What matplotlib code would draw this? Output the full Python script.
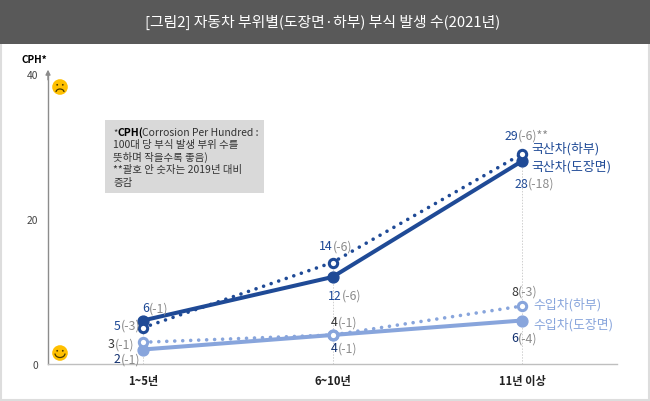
import matplotlib
matplotlib.use('Agg')
import matplotlib.pyplot as plt
from matplotlib.patches import Rectangle, Circle, Arc

plt.rcParams['font.family'] = ['Noto Sans CJK KR', 'DejaVu Sans']

W, H = 650, 402
title = '[그림2] 자동차 부위별(도장면·하부) 부식 발생 수(2021년)'
categories = ['1~5년', '6~10년', '11년 이상']
domestic_body = [6, 12, 28]
domestic_under = [5, 14, 29]
import_body = [2, 4, 6]
import_under = [3, 4, 8]
yticks = [0, 20, 40]

DARK = '#1F4A96'
LIGHT = '#88A5DC'
NAVY = '#12306F'
GRAY = '#8C8C8C'

fig = plt.figure(figsize=(W / 100, H / 100), dpi=100, facecolor='white')

bg = fig.add_axes([0, 0, 1, 1], zorder=0)
bg.set_xlim(0, W); bg.set_ylim(H, 0); bg.axis('off')
bg.add_patch(Rectangle((0.5, 0), W - 1.5, H - 1.5, fc='white', ec='#DDDDDD', lw=1.5))
bg.add_patch(Rectangle((0, 0), W, 45, fc='#595959', ec='none'))
bg.text(323, 22.5, title, color='white', fontsize=10.7, ha='center', va='center')
bg.text(22, 60, 'CPH*', fontsize=7.2, fontweight='bold', color='black', va='center')

bg.add_patch(Rectangle((105, 121), 159, 73, fc='#D9D9D9', ec='none'))
note_lines = [(145, '100대 당 부식 발생 부위 수를'), (157, '뜻하며 작을수록 좋음)'),
              (170, '**괄호 안 숫자는 2019년 대비'), (183, '증감')]
bg.text(113, 133, '*', fontsize=6.6, color='#333333', va='center')
bg.text(117, 133, 'CPH(', fontsize=7.5, color='black', fontweight='bold', va='center')
bg.text(142, 133, 'Corrosion Per Hundred :', fontsize=7.45, color='#333333', va='center')
for y, s in note_lines:
    bg.text(113, y, s, fontsize=7.5, color='#333333', va='center')


def face(cx, cy, happy):
    bg.add_patch(Circle((cx, cy), 7.8, fc='#FFC000', ec='none', zorder=3))
    bg.add_patch(Circle((cx - 2.8, cy - 2.2), 0.9, fc='#4A3A00', ec='none', zorder=4))
    bg.add_patch(Circle((cx + 2.8, cy - 2.2), 0.9, fc='#4A3A00', ec='none', zorder=4))
    if happy:
        bg.add_patch(Arc((cx, cy + 0.5), 10, 8, theta1=0, theta2=180, color='#4A3A00', lw=0.9, zorder=4))
    else:
        bg.add_patch(Arc((cx, cy + 5), 8, 6, theta1=180, theta2=360, color='#4A3A00', lw=0.9, zorder=4))


face(60, 88, False)
face(60, 354, True)

ax = fig.add_axes([48 / W, 1 - 365 / H, (617 - 48) / W, (365 - 75) / H], zorder=2)
ax.patch.set_alpha(0)
ax.set_xlim(-0.5, 2.5)
ax.set_ylim(0, 40)
for s in ['top', 'right']:
    ax.spines[s].set_visible(False)
ax.spines['left'].set_color('#8C8C8C')
ax.spines['left'].set_linewidth(1.0)
ax.spines['bottom'].set_color('#BFBFBF')
ax.spines['bottom'].set_linewidth(1.0)
ax.set_xticks(range(3))
ax.set_xticklabels(categories, fontsize=8.1, fontweight='bold', color='#222222')
ax.set_yticks(yticks)
ax.set_yticklabels([str(t) for t in yticks], fontsize=7.4, color='#444444')
ax.tick_params(axis='both', length=0)
ax.tick_params(axis='x', pad=7.5)
ax.tick_params(axis='y', pad=7)
ax.annotate('', xy=(0, 1.015), xycoords='axes fraction', xytext=(0, 0.98),
            arrowprops=dict(arrowstyle='-|>', color='#8C8C8C', lw=1, mutation_scale=7, shrinkA=0, shrinkB=0))

for i in range(3):
    top = max(domestic_body[i], domestic_under[i], import_body[i], import_under[i])
    ax.plot([i, i], [0, top], color='#CFCFCF', lw=0.7, ls=(0, (1.5, 1.5)), zorder=1)

x = list(range(3))
DOT = (0, (0.01, 2.2))
ax.plot(x, domestic_body, color=DARK, lw=2.9, solid_capstyle='round', zorder=3)
ax.plot(x, domestic_under, color=DARK, lw=2.6, ls=DOT, dash_capstyle='round', zorder=3)
ax.plot(x, import_body, color=LIGHT, lw=2.9, solid_capstyle='round', zorder=2.5)
ax.plot(x, import_under, color=LIGHT, lw=2.6, ls=DOT, dash_capstyle='round', zorder=2.5)

ax.plot(x, import_body, ls='none', marker='o', ms=7.8, mfc=LIGHT, mec=LIGHT, zorder=4)
ax.plot(x, domestic_body, ls='none', marker='o', ms=7.8, mfc=DARK, mec=DARK, zorder=4)
ax.plot(x, import_under, ls='none', marker='o', ms=6, mfc='white', mec=LIGHT, mew=2.2, zorder=5)
ax.plot(x, domestic_under, ls='none', marker='o', ms=6, mfc='white', mec=DARK, mew=2.2, zorder=5)


def label(i, val, num, delta, dx, y_px, color, size=8.9):
    y0 = 365 - val * 290 / 40
    dy = y0 - y_px
    ax.annotate(num, (i, val), xytext=(dx, dy), textcoords='offset pixels',
                ha='right', va='center', color=color, fontsize=size, zorder=6)
    ax.annotate(delta, (i, val), xytext=(dx, dy), textcoords='offset pixels',
                ha='left', va='center', color=GRAY, fontsize=size, zorder=6)


label(0, 6, '6', '(-1)', 6, 309, DARK)
label(0, 5, '5', '(-3)', -22, 326, DARK)
label(0, 3, '3', '(-1)', -28, 345, '#333333')
label(0, 2, '2', '(-1)', -22, 360, NAVY)
label(1, 14, '14', '(-6)', 0, 247, DARK)
label(1, 12, '12', '(-6)', 9, 296, DARK)
label(1, 4, '4', '(-1)', 5, 323, '#333333')
label(1, 4, '4', '(-1)', 5, 349, NAVY)
label(2, 29, '29', '(-6)**', -4, 136, DARK)
label(2, 28, '28', '(-18)', 6, 184, DARK)
label(2, 8, '8', '(-3)', -4, 292, '#333333')
label(2, 6, '6', '(-4)', -4, 339, NAVY)

bg2 = fig.add_axes([0, 0, 1, 1], zorder=3)
bg2.set_xlim(0, W); bg2.set_ylim(H, 0); bg2.axis('off'); bg2.patch.set_alpha(0)
bg2.text(531, 149, '국산차(하부)', color=DARK, fontsize=9.3, va='center')
bg2.text(531, 167, '국산차(도장면)', color=DARK, fontsize=9.3, va='center')
bg2.text(533, 305, '수입차(하부)', color=LIGHT, fontsize=9.3, va='center')
bg2.text(533, 325, '수입차(도장면)', color=LIGHT, fontsize=9.3, va='center')

fig.savefig('out.png', dpi=100)
